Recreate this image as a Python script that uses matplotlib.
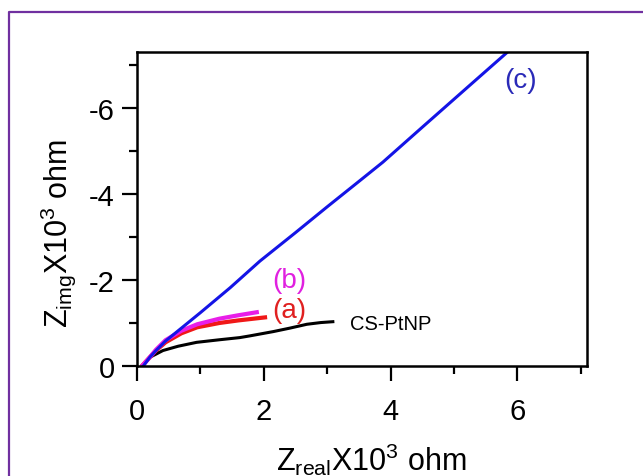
import matplotlib
matplotlib.use("Agg")
import matplotlib.pyplot as plt
from matplotlib.lines import Line2D

plt.rcParams['font.family'] = ['Liberation Sans', 'DejaVu Sans']
plt.rcParams['mathtext.fontset'] = 'custom'
plt.rcParams['mathtext.rm'] = 'Liberation Sans'
plt.rcParams['mathtext.it'] = 'Liberation Sans'
plt.rcParams['axes.unicode_minus'] = False

# Nyquist data, Z x10^3 ohm (imaginary part negative, axis inverted)
x_cs = [0.09, 0.2, 0.41, 0.65, 0.94, 1.3, 1.62, 1.78, 2.15, 2.41, 2.68, 2.9, 3.09]
y_cs = [-0.02, -0.2, -0.36, -0.46, -0.55, -0.61, -0.66, -0.70, -0.80, -0.88, -0.97, -1.01, -1.03]

x_a = [0.09, 0.2, 0.3, 0.45, 0.7, 0.95, 1.3, 1.6, 1.78, 2.02]
y_a = [-0.02, -0.2, -0.36, -0.55, -0.76, -0.9, -1.0, -1.06, -1.09, -1.13]

x_b = [0.09, 0.2, 0.3, 0.45, 0.7, 0.95, 1.3, 1.6, 1.89]
y_b = [-0.02, -0.2, -0.38, -0.6, -0.82, -0.97, -1.1, -1.18, -1.25]

x_c = [0.1, 0.2, 0.3, 0.45, 0.7, 1.0, 1.47, 1.94, 2.5, 3.0, 3.5, 3.88, 4.5, 5.2, 5.87]
y_c = [0.0, -0.2, -0.36, -0.58, -0.88, -1.24, -1.82, -2.44, -3.1, -3.7, -4.29, -4.74, -5.55, -6.46, -7.33]

fig = plt.figure(figsize=(6.43, 4.77), dpi=100)
ax = fig.add_axes([137/643, 1-367/477, 450/643, 314/477])

ax.plot(x_cs, y_cs, color='black', lw=2.2)
ax.plot(x_a, y_a, color='#f01818', lw=3)
ax.plot(x_b, y_b, color='#e81ee8', lw=3)
ax.plot(x_c, y_c, color='#1414e6', lw=2.2)

ax.set_xlim(0, 7.1)
ax.set_ylim(0, -7.3)
ax.set_xticks([0, 2, 4, 6])
ax.set_xticks([1, 3, 5, 7], minor=True)
ax.set_yticks([0, -2, -4, -6])
ax.set_yticks([-1, -3, -5, -7], minor=True)

for s in ax.spines.values():
    s.set_linewidth(1.8)
ax.tick_params(which='both', top=False, right=False, direction='out', width=1.6)
ax.tick_params(axis='x', which='major', length=11, pad=11, labelsize=21)
ax.tick_params(axis='x', which='minor', length=6)
ax.tick_params(axis='y', which='major', length=11, pad=5, labelsize=21)
ax.tick_params(axis='y', which='minor', length=6)

fig.text(371/643, 1-471/477, r'Z$_{\mathrm{real}}$X10$^{3}$ ohm', fontsize=22,
         ha='center', va='baseline')
fig.text(67/643, 1-233/477, r'Z$_{\mathrm{img}}$X10$^{3}$ ohm', fontsize=22,
         ha='center', va='baseline', rotation=90, rotation_mode='anchor')

ax.text(6.05, -6.65, '(c)', color='#2a2ab8', fontsize=20, ha='center', va='center')
ax.text(2.4, -2.0, '(b)', color='#e020e0', fontsize=20, ha='center', va='center')
ax.text(2.4, -1.31, '(a)', color='#e02020', fontsize=20, ha='center', va='center')
ax.text(3.36, -0.98, 'CS-PtNP', color='black', fontsize=14.5, ha='left', va='center')

# purple frame around the figure
fig.add_artist(Line2D([9/643, 9/643, 1.0], [0.0, 1-13/477, 1-13/477],
                      transform=fig.transFigure, color='#7030a0', lw=1.6))

fig.savefig('out.png', dpi=100)
